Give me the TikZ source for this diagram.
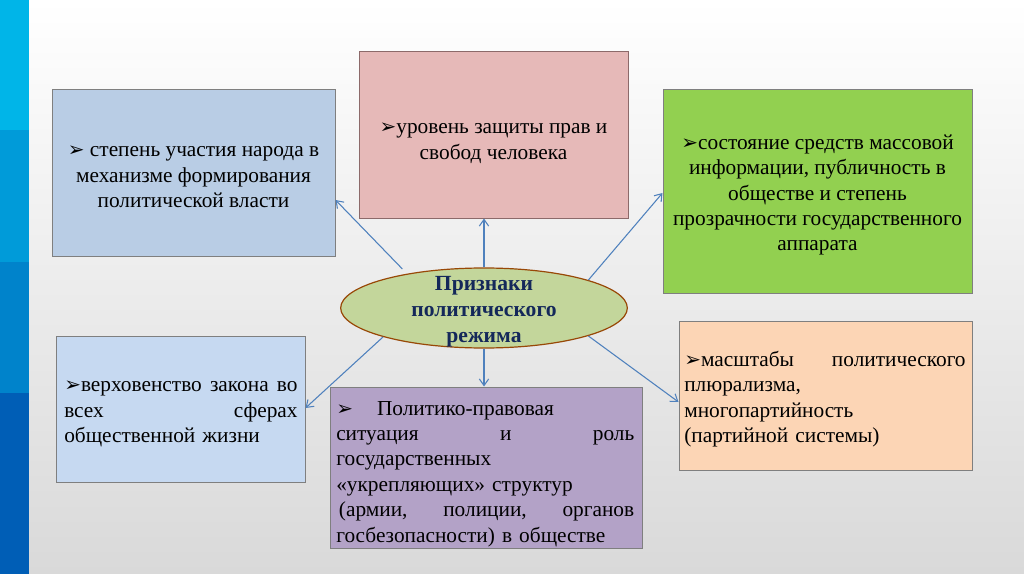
\documentclass[tikz,border=0pt]{standalone}
\usepackage{fontspec}
\setmainfont{Liberation Serif}
\newfontfamily\serfont{Liberation Serif}
\newfontfamily\dejfont{DejaVu Sans}
\usetikzlibrary{arrows.meta,shapes.geometric,fit}
\definecolor{bandA}{HTML}{00B5E8}
\definecolor{bandB}{HTML}{009BD9}
\definecolor{bandC}{HTML}{0083CB}
\definecolor{bandD}{HTML}{005EB6}
\definecolor{bgbot}{HTML}{D9D9D9}
\definecolor{lineg}{HTML}{7F7F7F}
\definecolor{fillA}{HTML}{B9CDE5}
\definecolor{fillB}{HTML}{E6B9B8}
\definecolor{lineB}{HTML}{8C6A6A}
\definecolor{fillC}{HTML}{92D050}
\definecolor{fillE}{HTML}{C6D9F1}
\definecolor{fillF}{HTML}{B3A2C7}
\definecolor{fillG}{HTML}{FCD5B5}
\definecolor{fillEl}{HTML}{C3D69B}
\definecolor{lineEl}{HTML}{984807}
\definecolor{navy}{HTML}{14285A}
\definecolor{arrc}{HTML}{4F81BD}
\newcommand{\bul}{{\dejfont\fontsize{15}{15}\selectfont ➢}}
\newcommand{\jl}[2]{\makebox[#1]{#2}}
\tikzset{
  box/.style={line width=0.75pt, inner sep=0pt},
  txt/.style={inner sep=0pt, font=\serfont\fontsize{16}{19.1}\selectfont},
  arr/.style={draw=arrc, line width=0.8pt, -{Straight Barb[length=5pt,width=7pt]}}
}
\begin{document}
\begin{tikzpicture}[x=0.75pt,y=-0.75pt]
\useasboundingbox (0,0) rectangle (1024,574);
% background
\shade[top color=white, bottom color=bgbot] (29,0) rectangle (1024,574);
\fill[bandA] (0,0) rectangle (29,130);
\fill[bandB] (0,130) rectangle (29,262);
\fill[bandC] (0,262) rectangle (29,393);
\fill[bandD] (0,393) rectangle (29,574);
% boxes
\node[box, draw=lineg, fill=fillA, fit={(52,90) (335,256)}] (b1) {};
\node[box, draw=lineB, fill=fillB, fit={(359,52) (628,218)}] (b2) {};
\node[box, draw=lineg, fill=fillC, fit={(663,90) (972,293)}] (b3) {};
\node[box, draw=lineg, fill=fillE, fit={(56,336) (305,482)}] (b5) {};
\node[box, draw=lineg, fill=fillF, fit={(330,387) (642,548)}] (b6) {};
\node[box, draw=lineg, fill=fillG, fit={(679,321) (972,470)}] (b7) {};
% texts
\node[txt, align=center] (t1) at (193.5,177)
  {\bul\ степень участия народа в\\механизме формирования\\политической власти};
\node[txt, align=center] (t2) at (493.5,143)
  {\bul уровень защиты прав и\\свобод человека};
\node[txt, align=center] (t3) at (817.5,195)
  {\bul состояние средств массовой\\информации, публичность в\\обществе и степень\\прозрачности государственного\\аппарата};
\node[txt, anchor=west, text width=175pt, align=left] (t5) at (64,414)
  {\jl{175pt}{\bul верховенство\hfill закона\hfill во}\\\jl{175pt}{всех\hfill сферах}\\общественной жизни};
\node[txt, anchor=west, text width=223.5pt, align=left] (t6) at (336,474)
  {\bul\hspace{18pt}Политико-правовая\\\jl{223.5pt}{ситуация\hfill и\hfill роль}\\государственных\\«укрепляющих» структур\\\jl{223.5pt}{\hspace{2pt}(армии,\hfill полиции,\hfill органов}\\госбезопасности) в обществе};
\node[txt, anchor=west, text width=211pt, align=left] (t7) at (684,399)
  {\jl{211pt}{\bul масштабы\hfill политического}\\плюрализма,\\многопартийность\\(партийной системы)};
% ellipse
\node[ellipse, draw=lineEl, line width=0.9pt, fill=fillEl, minimum width=215pt, minimum height=60pt, inner sep=0pt] (el) at (484,308) {};
\node[font=\serfont\bfseries\fontsize{16.2}{19.3}\selectfont, text=navy, align=center, inner sep=0pt] (elt) at (484,311.5)
  {Признаки\\политического\\режима};
% arrows
\draw[arr, shorten <=5pt] (el.156) -- (b1.east |- 0,200);
\draw[arr] (el.north) -- (el.north |- b2.south);
\draw[arr] (el.15.6) -- (b3.west |- 0,193);
\draw[arr] (el.-164.6) -- (b5.east |- 0,408);
\draw[arr] (el.south) -- (el.south |- b6.north);
\draw[arr] (el.-15.6) -- (b7.west |- 0,402);
\end{tikzpicture}
\end{document}
